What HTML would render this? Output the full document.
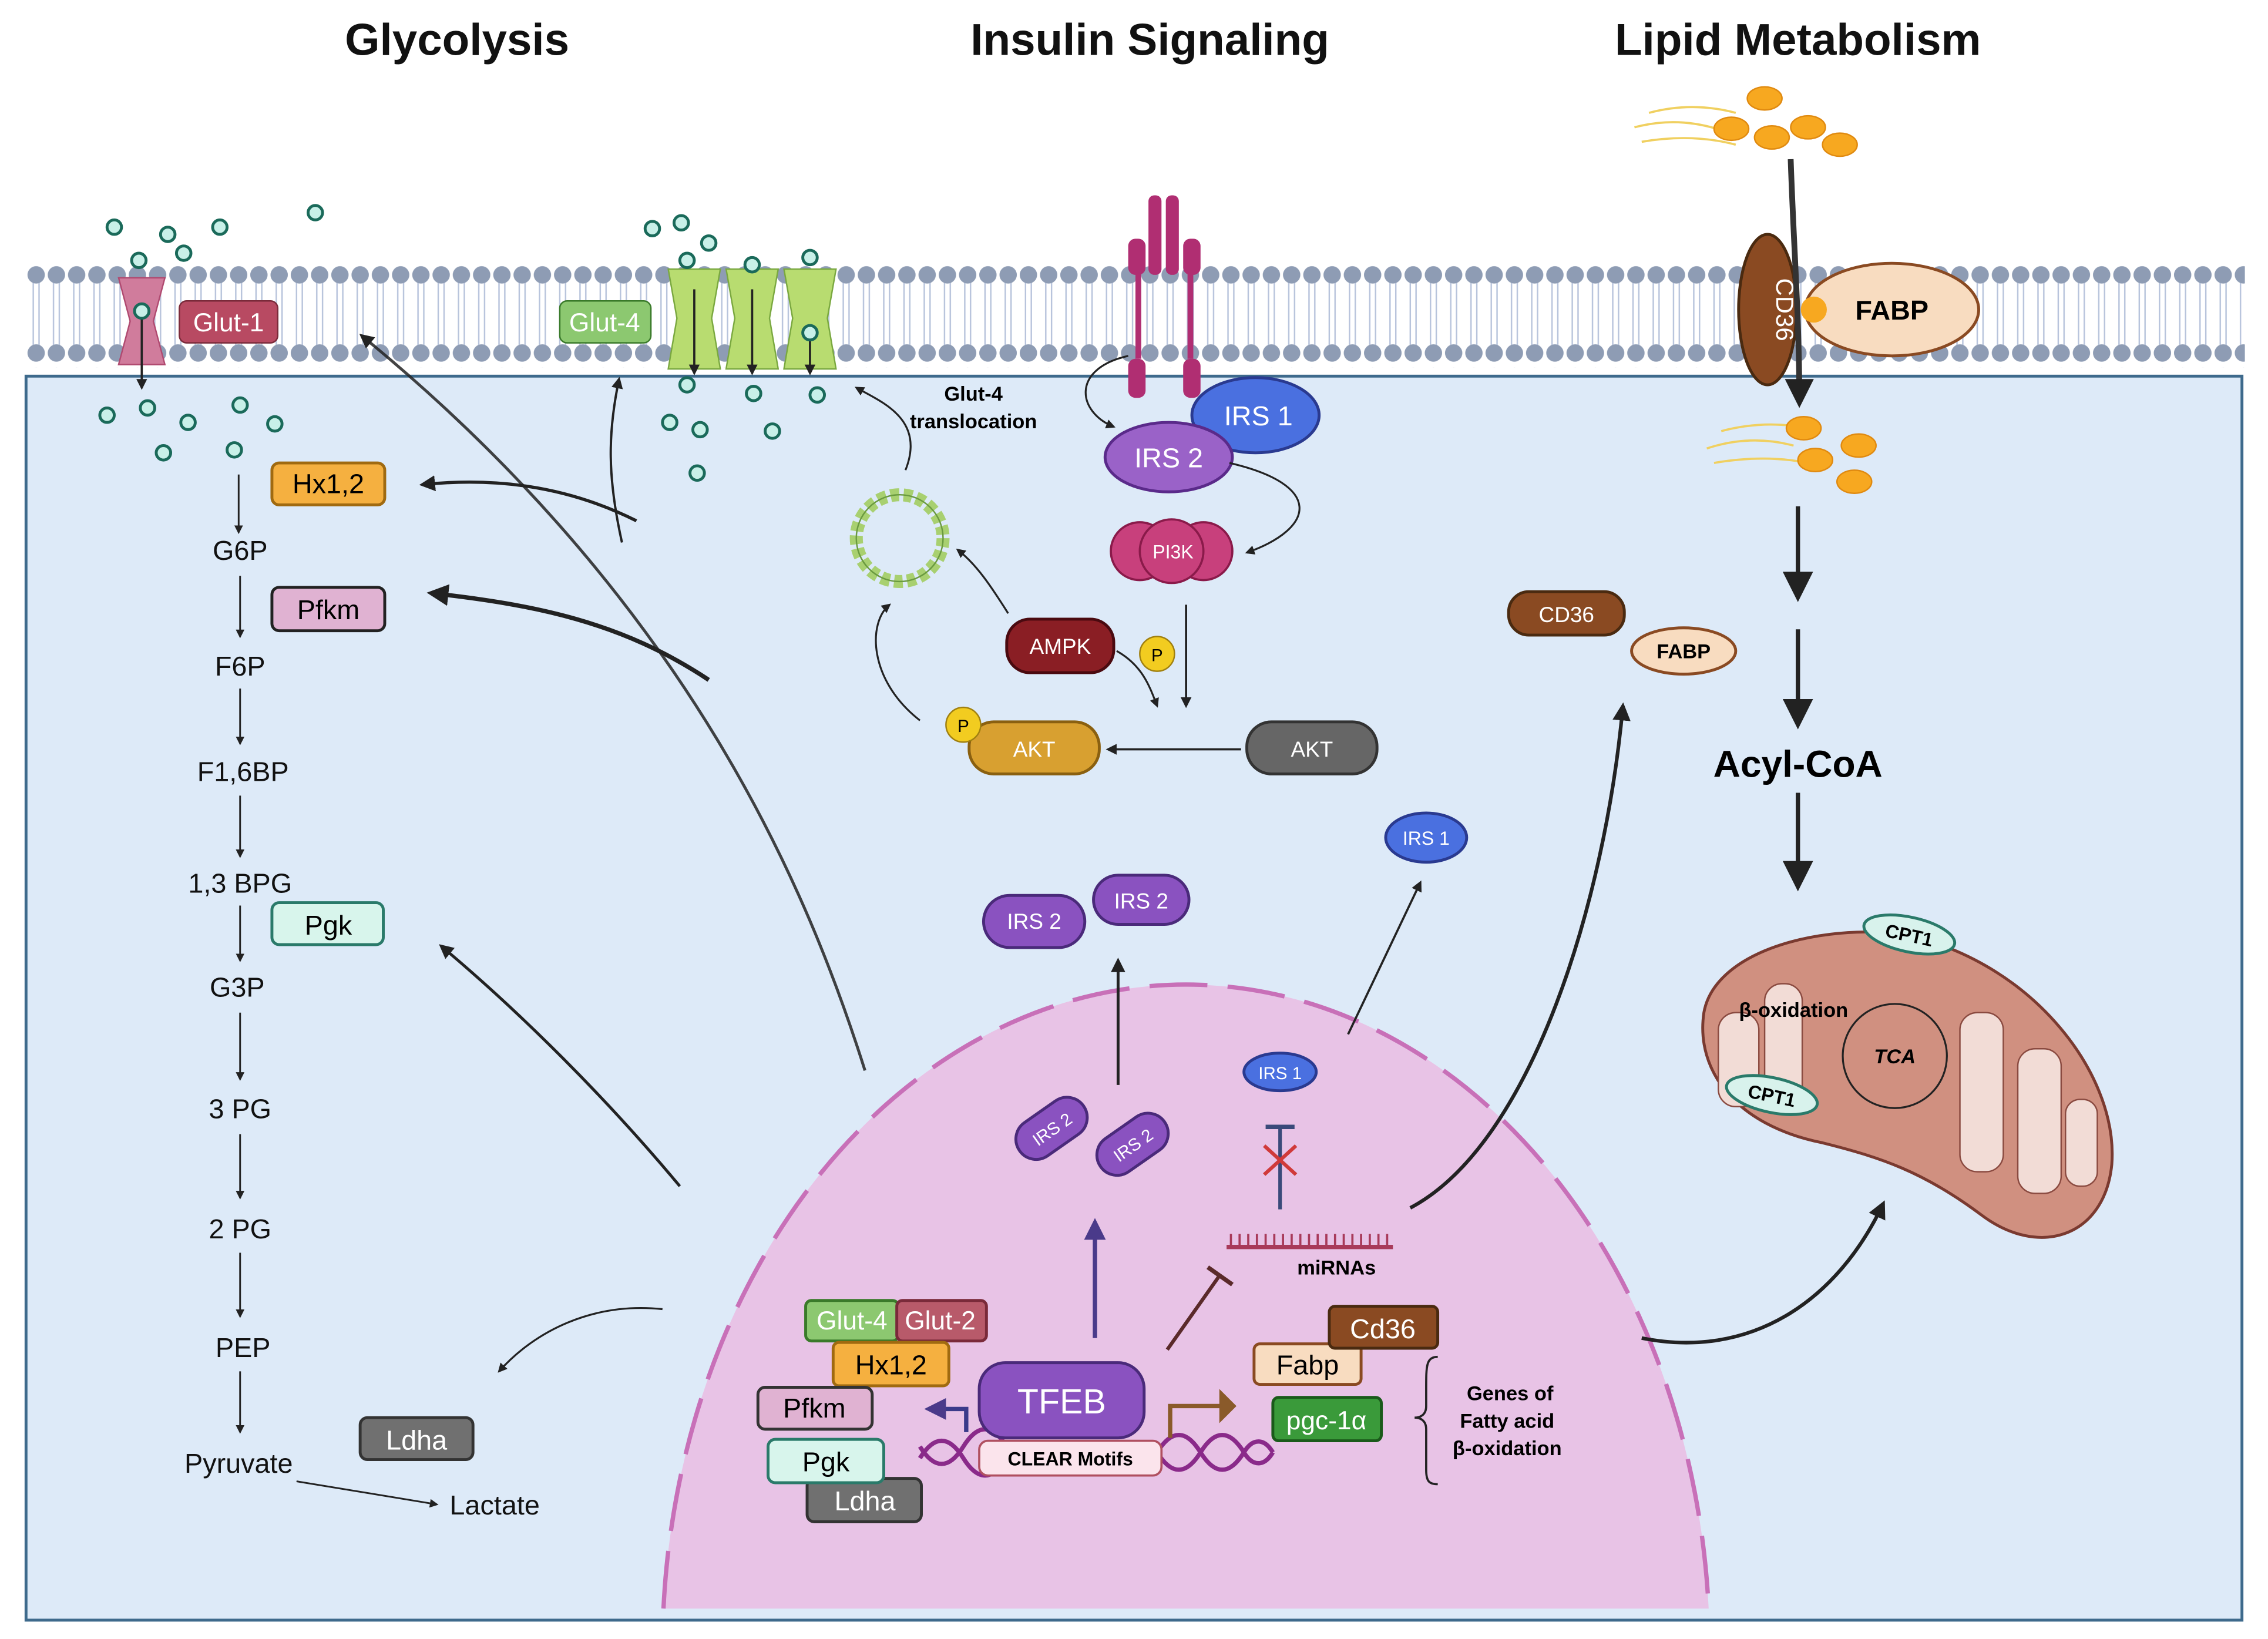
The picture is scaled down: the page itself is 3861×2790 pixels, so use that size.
<!DOCTYPE html>
<html><head><meta charset="utf-8"><style>html,body{margin:0;padding:0;background:#fff;width:3861px;height:2790px;overflow:hidden}svg{display:block}text{font-family:"Liberation Sans",sans-serif}</style></head>
<body>
<svg width="3861" height="2790" viewBox="0 0 1568 1133" xmlns="http://www.w3.org/2000/svg">
<defs>
<marker id="a" viewBox="0 0 10 10" refX="8" refY="5" markerWidth="5" markerHeight="5" orient="auto"><path d="M0,0L10,5L0,10z" fill="#222"/></marker>
<marker id="as" viewBox="0 0 10 10" refX="8" refY="5" markerWidth="7" markerHeight="7" orient="auto"><path d="M0,0L10,5L0,10z" fill="#222"/></marker>
<marker id="ap" viewBox="0 0 10 10" refX="8" refY="5" markerWidth="5" markerHeight="5" orient="auto"><path d="M0,0L10,5L0,10z" fill="#4a3a8a"/></marker>
<pattern id="beads" width="14" height="70" patternUnits="userSpaceOnUse" x="18" y="182">
<line x1="5" y1="8" x2="5" y2="62" stroke="#b8c4dc" stroke-width="1"/><line x1="9" y1="8" x2="9" y2="62" stroke="#b8c4dc" stroke-width="1"/>
<circle cx="7" cy="8" r="6" fill="#8e9cb4"/><circle cx="7" cy="62" r="6" fill="#8e9cb4"/></pattern>
</defs>
<rect width="1568" height="1133" fill="#fff"/>
<g font-weight="bold" font-size="31" text-anchor="middle" fill="#111">
<text x="316" y="38">Glycolysis</text><text x="795" y="38">Insulin Signaling</text><text x="1243" y="38">Lipid Metabolism</text></g>
<rect x="18" y="260" width="1532" height="860" fill="#ddeaf8" stroke="#3e6a8c" stroke-width="2"/>
<rect x="18" y="182" width="1534" height="72" fill="url(#beads)"/>
<path d="M458.7,1112 A362,460 0 0 1 1181.3,1112 Z" fill="#e8c3e6"/>
<path d="M458.7,1112 A362,460 0 0 1 1181.3,1112" fill="none" stroke="#c870b8" stroke-width="3" stroke-dasharray="40 14"/>
<path d="M82,192 L114,192 L106,222 L114,252 L82,252 L90,222Z" fill="#d07c9c" stroke="#b04a70"/>
<line x1="98" y1="215" x2="98" y2="268" stroke="#222" stroke-width="1.5" marker-end="url(#a)"/>
<rect x="124" y="208" width="68" height="29" rx="5" fill="#b84a62" stroke="#7a2a3a"/><text x="158" y="229" font-size="18" fill="#fff" text-anchor="middle">Glut-1</text>
<rect x="387" y="208" width="63" height="29" rx="5" fill="#8cc870" stroke="#3a7a2a"/><text x="418" y="229" font-size="18" fill="#fff" text-anchor="middle">Glut-4</text>
<g fill="#b8dc70" stroke="#7aa840">
<path d="M462,186 L498,186 L492,220 L498,255 L462,255 L468,220Z"/><path d="M502,186 L538,186 L532,220 L538,255 L502,255 L508,220Z"/><path d="M542,186 L578,186 L572,220 L578,255 L542,255 L548,220Z"/></g>
<g stroke="#222" stroke-width="1.5"><line x1="480" y1="200" x2="480" y2="258" marker-end="url(#a)"/><line x1="520" y1="200" x2="520" y2="258" marker-end="url(#a)"/><line x1="560" y1="230" x2="560" y2="258" marker-end="url(#a)"/></g>
<g fill="#c8f0e8" stroke="#1a6a5a" stroke-width="2">
<circle cx="79" cy="157" r="5"/><circle cx="116" cy="162" r="5"/><circle cx="127" cy="175" r="5"/><circle cx="152" cy="157" r="5"/><circle cx="218" cy="147" r="5"/><circle cx="96" cy="180" r="5"/><circle cx="98" cy="215" r="5"/>
<circle cx="74" cy="287" r="5"/><circle cx="102" cy="282" r="5"/><circle cx="130" cy="292" r="5"/><circle cx="166" cy="280" r="5"/><circle cx="190" cy="293" r="5"/><circle cx="113" cy="313" r="5"/><circle cx="162" cy="311" r="5"/>
<circle cx="451" cy="158" r="5"/><circle cx="471" cy="154" r="5"/><circle cx="490" cy="168" r="5"/><circle cx="475" cy="180" r="5"/><circle cx="520" cy="183" r="5"/><circle cx="560" cy="178" r="5"/><circle cx="560" cy="230" r="5"/>
<circle cx="475" cy="266" r="5"/><circle cx="521" cy="272" r="5"/><circle cx="565" cy="273" r="5"/><circle cx="463" cy="292" r="5"/><circle cx="484" cy="297" r="5"/><circle cx="534" cy="298" r="5"/><circle cx="482" cy="327" r="5"/></g>
<g fill="#b02e72"><rect x="794" y="135" width="9" height="55" rx="4"/><rect x="806" y="135" width="9" height="55" rx="4"/><rect x="780" y="165" width="12" height="25" rx="5"/><rect x="818" y="165" width="12" height="25" rx="5"/>
<rect x="785" y="188" width="4" height="60"/><rect x="821" y="188" width="4" height="60"/><rect x="780" y="248" width="12" height="27" rx="5"/><rect x="818" y="248" width="12" height="27" rx="5"/></g>
<path d="M780,246 C740,255 745,285 770,295" fill="none" stroke="#222" stroke-width="1.3" marker-end="url(#a)"/>
<ellipse cx="868" cy="287" rx="44" ry="26" fill="#4a70e0" stroke="#2a3a90" stroke-width="2"/><text x="870" y="294" font-size="19" fill="#fff" text-anchor="middle">IRS 1</text>
<ellipse cx="808" cy="316" rx="44" ry="24" fill="#9a62c8" stroke="#5a2a8a" stroke-width="2"/><text x="808" y="323" font-size="19" fill="#fff" text-anchor="middle">IRS 2</text>
<path d="M850,320 C915,335 910,365 862,382" fill="none" stroke="#222" stroke-width="1.3" marker-end="url(#a)"/>
<g fill="#c8407c" stroke="#8a1a4a" stroke-width="1.5"><circle cx="788" cy="381" r="20"/><circle cx="832" cy="381" r="20"/><circle cx="810" cy="381" r="22"/></g>
<text x="811" y="386" font-size="13" fill="#fff" text-anchor="middle">PI3K</text>
<line x1="820" y1="418" x2="820" y2="488" stroke="#222" stroke-width="1.5" marker-end="url(#a)"/>
<circle cx="622" cy="372" r="30" fill="none" stroke="#a8d070" stroke-width="9" stroke-dasharray="6 3"/><circle cx="622" cy="372" r="30" fill="none" stroke="#6a9a40" stroke-width="1"/>
<path d="M626,325 C640,290 610,278 592,268" fill="none" stroke="#222" stroke-width="1.3" marker-end="url(#a)"/>
<text x="673" y="277" font-size="14" font-weight="bold" text-anchor="middle">Glut-4</text><text x="673" y="296" font-size="14" font-weight="bold" text-anchor="middle">translocation</text>
<path d="M697,424 C685,405 675,390 662,380" fill="none" stroke="#222" stroke-width="1.3" marker-end="url(#a)"/>
<path d="M636,498 C600,470 600,430 615,418" fill="none" stroke="#222" stroke-width="1.3" marker-end="url(#a)"/>
<rect x="696" y="428" width="74" height="37" rx="16" fill="#8a1e24" stroke="#4a0a10" stroke-width="2"/><text x="733" y="452" font-size="15" fill="#fff" text-anchor="middle">AMPK</text>
<path d="M772,450 C790,460 795,475 800,488" fill="none" stroke="#222" stroke-width="1.3" marker-end="url(#a)"/>
<circle cx="800" cy="452" r="12" fill="#f2cc20" stroke="#a08010"/><text x="800" y="457" font-size="12" text-anchor="middle">P</text>
<rect x="670" y="499" width="90" height="36" rx="17" fill="#d8a030" stroke="#8a6010" stroke-width="2"/><text x="715" y="523" font-size="15" fill="#fff" text-anchor="middle">AKT</text>
<circle cx="666" cy="501" r="12" fill="#f2cc20" stroke="#a08010"/><text x="666" y="506" font-size="12" text-anchor="middle">P</text>
<rect x="862" y="499" width="90" height="36" rx="17" fill="#666" stroke="#333" stroke-width="2"/><text x="907" y="523" font-size="15" fill="#fff" text-anchor="middle">AKT</text>
<line x1="858" y1="518" x2="766" y2="518" stroke="#222" stroke-width="1.5" marker-end="url(#a)"/>
<g stroke="#f0d060" stroke-width="1.5" fill="none"><path d="M1130,88 Q1160,80 1190,90"/><path d="M1135,98 Q1170,92 1200,100"/><path d="M1140,78 Q1170,70 1200,78"/><path d="M1180,310 Q1210,300 1240,308"/><path d="M1185,320 Q1220,314 1250,320"/><path d="M1190,298 Q1220,290 1250,296"/></g>
<g fill="#f7a820" stroke="#e08a10"><ellipse cx="1220" cy="68" rx="12" ry="8"/><ellipse cx="1197" cy="89" rx="12" ry="8"/><ellipse cx="1225" cy="95" rx="12" ry="8"/><ellipse cx="1250" cy="88" rx="12" ry="8"/><ellipse cx="1272" cy="100" rx="12" ry="8"/>
<ellipse cx="1247" cy="296" rx="12" ry="8"/><ellipse cx="1285" cy="308" rx="12" ry="8"/><ellipse cx="1255" cy="318" rx="12" ry="8"/><ellipse cx="1282" cy="333" rx="12" ry="8"/></g>
<ellipse cx="1222" cy="214" rx="20" ry="52" fill="#8a4a22" stroke="#4a2a10" stroke-width="2"/>
<text x="0" y="0" font-size="17" fill="#fff" text-anchor="middle" transform="translate(1228,214) rotate(90)">CD36</text>
<ellipse cx="1308" cy="214" rx="60" ry="32" fill="#f8dcc0" stroke="#8a4a22" stroke-width="2"/><text x="1308" y="221" font-size="19" font-weight="bold" text-anchor="middle">FABP</text>
<circle cx="1254" cy="214" r="9" fill="#f7a820"/>
<path d="M1238,110 C1240,170 1244,220 1244,278" fill="none" stroke="#333" stroke-width="4" marker-end="url(#a)"/>
<g stroke="#222" stroke-width="3"><line x1="1243" y1="350" x2="1243" y2="412" marker-end="url(#as)"/><line x1="1243" y1="435" x2="1243" y2="500" marker-end="url(#as)"/><line x1="1243" y1="548" x2="1243" y2="612" marker-end="url(#as)"/></g>
<text x="1243" y="537" font-size="26" font-weight="bold" text-anchor="middle">Acyl-CoA</text>
<rect x="1043" y="409" width="80" height="30" rx="14" fill="#8a4a22" stroke="#4a2a10" stroke-width="2"/><text x="1083" y="430" font-size="15" fill="#fff" text-anchor="middle">CD36</text>
<ellipse cx="1164" cy="450" rx="36" ry="16" fill="#f8dcc0" stroke="#8a4a22" stroke-width="2"/><text x="1164" y="455" font-size="14" font-weight="bold" text-anchor="middle">FABP</text>
<path d="M1178,700 C1185,660 1250,640 1310,645 C1400,660 1465,740 1460,805 C1455,855 1410,870 1370,840 C1330,810 1300,800 1260,790 C1200,778 1172,740 1178,700Z" fill="#d09080" stroke="#7a3a30" stroke-width="2"/>
<g fill="#f2dcd6" stroke="#8a4a40" stroke-width="1"><rect x="1188" y="700" width="28" height="65" rx="12"/><rect x="1220" y="680" width="26" height="90" rx="12"/><rect x="1355" y="700" width="30" height="110" rx="12"/><rect x="1395" y="725" width="30" height="100" rx="12"/><rect x="1428" y="760" width="22" height="60" rx="10"/></g>
<circle cx="1310" cy="730" r="36" fill="none" stroke="#222" stroke-width="1.3"/>
<text x="1240" y="703" font-size="14" font-weight="bold" text-anchor="middle">β-oxidation</text>
<text x="1310" y="735" font-size="14" font-weight="bold" font-style="italic" text-anchor="middle">TCA</text>
<ellipse cx="1320" cy="646" rx="32" ry="12" fill="#d8f2ec" stroke="#2a7a6a" stroke-width="2" transform="rotate(12 1320 646)"/><text x="1320" y="651" font-size="13" font-weight="bold" text-anchor="middle" transform="rotate(12 1320 646)">CPT1</text>
<ellipse cx="1225" cy="757" rx="32" ry="12" fill="#d8f2ec" stroke="#2a7a6a" stroke-width="2" transform="rotate(12 1225 757)"/><text x="1225" y="762" font-size="13" font-weight="bold" text-anchor="middle" transform="rotate(12 1225 757)">CPT1</text>
<ellipse cx="986" cy="579" rx="28" ry="17" fill="#4a70e0" stroke="#2a3a90" stroke-width="2"/><text x="986" y="584" font-size="13" fill="#fff" text-anchor="middle">IRS 1</text>
<rect x="680" y="619" width="70" height="36" rx="18" fill="#8a52c0" stroke="#4a2a7a" stroke-width="2"/><text x="715" y="642" font-size="15" fill="#fff" text-anchor="middle">IRS 2</text>
<rect x="756" y="605" width="66" height="34" rx="17" fill="#8a52c0" stroke="#4a2a7a" stroke-width="2"/><text x="789" y="628" font-size="15" fill="#fff" text-anchor="middle">IRS 2</text>
<line x1="773" y1="750" x2="773" y2="664" stroke="#222" stroke-width="2" marker-end="url(#a)"/>
<line x1="932" y1="715" x2="982" y2="610" stroke="#222" stroke-width="1.5" marker-end="url(#a)"/>
<g font-size="19" text-anchor="middle" fill="#111">
<text x="166" y="387">G6P</text><text x="166" y="467">F6P</text><text x="168" y="540">F1,6BP</text><text x="166" y="617">1,3 BPG</text><text x="164" y="689">G3P</text><text x="166" y="773">3 PG</text><text x="166" y="856">2 PG</text><text x="168" y="938">PEP</text><text x="165" y="1018">Pyruvate</text><text x="342" y="1047">Lactate</text></g>
<g stroke="#222" stroke-width="1.2">
<line x1="165" y1="328" x2="165" y2="368" marker-end="url(#a)"/><line x1="166" y1="398" x2="166" y2="440" marker-end="url(#a)"/><line x1="166" y1="476" x2="166" y2="514" marker-end="url(#a)"/><line x1="166" y1="550" x2="166" y2="592" marker-end="url(#a)"/><line x1="166" y1="626" x2="166" y2="664" marker-end="url(#a)"/><line x1="166" y1="700" x2="166" y2="746" marker-end="url(#a)"/><line x1="166" y1="784" x2="166" y2="828" marker-end="url(#a)"/><line x1="166" y1="866" x2="166" y2="910" marker-end="url(#a)"/><line x1="166" y1="948" x2="166" y2="990" marker-end="url(#a)"/><line x1="205" y1="1024" x2="302" y2="1040" marker-end="url(#a)"/></g>
<rect x="188" y="320" width="78" height="29" rx="5" fill="#f5b040" stroke="#a06a10" stroke-width="2"/><text x="227" y="341" font-size="19" text-anchor="middle">Hx1,2</text>
<rect x="188" y="406" width="78" height="30" rx="5" fill="#e0b2d2" stroke="#222" stroke-width="2"/><text x="227" y="428" font-size="19" text-anchor="middle">Pfkm</text>
<rect x="188" y="624" width="77" height="29" rx="5" fill="#d8f5ec" stroke="#2a7a6a" stroke-width="2"/><text x="227" y="646" font-size="19" text-anchor="middle">Pgk</text>
<rect x="249" y="980" width="78" height="29" rx="5" fill="#707070" stroke="#333" stroke-width="2"/><text x="288" y="1002" font-size="19" fill="#fff" text-anchor="middle">Ldha</text>
<g fill="none" stroke="#222">
<path d="M598,740 C560,620 480,420 250,232" stroke-width="2" stroke-opacity="0.85" marker-end="url(#a)"/>
<path d="M430,375 C420,330 420,300 428,262" stroke-width="1.6" marker-end="url(#a)"/>
<path d="M440,360 C390,335 340,330 292,335" stroke-width="2.2" marker-end="url(#a)"/>
<path d="M490,470 C430,430 370,418 298,410" stroke-width="3" marker-end="url(#a)"/>
<path d="M470,820 C420,760 360,700 305,654" stroke-width="2" marker-end="url(#a)"/>
<path d="M458,905 C410,900 370,920 345,948" stroke-width="1.3" marker-end="url(#a)"/>
<path d="M975,835 C1060,790 1110,620 1122,488" stroke-width="2.5" marker-end="url(#a)"/>
<path d="M1135,925 C1210,940 1270,900 1302,832" stroke-width="2.5" marker-end="url(#a)"/></g>
<ellipse cx="885" cy="741" rx="25" ry="13" fill="#4a70e0" stroke="#2a3a90" stroke-width="2"/><text x="885" y="746" font-size="12" fill="#fff" text-anchor="middle">IRS 1</text>
<g transform="rotate(-35 727 780)"><rect x="700" y="766" width="54" height="28" rx="14" fill="#8a52c0" stroke="#4a2a7a" stroke-width="2"/><text x="727" y="785" font-size="12" fill="#fff" text-anchor="middle">IRS 2</text></g>
<g transform="rotate(-35 783 791)"><rect x="756" y="777" width="54" height="28" rx="14" fill="#8a52c0" stroke="#4a2a7a" stroke-width="2"/><text x="783" y="796" font-size="12" fill="#fff" text-anchor="middle">IRS 2</text></g>
<line x1="885" y1="836" x2="885" y2="779" stroke="#3a4a7a" stroke-width="2.5"/><line x1="875" y1="779" x2="895" y2="779" stroke="#3a4a7a" stroke-width="3"/>
<path d="M874,792 L896,812 M896,792 L874,812" stroke="#d03a3a" stroke-width="2.5"/>
<line x1="848" y1="862" x2="963" y2="862" stroke="#a83a5a" stroke-width="3"/>
<path d="M851,862 V853 M857,862 V853 M863,862 V853 M869,862 V853 M875,862 V853 M881,862 V853 M887,862 V853 M893,862 V853 M899,862 V853 M905,862 V853 M911,862 V853 M917,862 V853 M923,862 V853 M929,862 V853 M935,862 V853 M941,862 V853 M947,862 V853 M953,862 V853 M959,862 V853" stroke="#a83a5a" stroke-width="1.5"/>
<text x="924" y="881" font-size="14" font-weight="bold" text-anchor="middle">miRNAs</text>
<line x1="757" y1="925" x2="757" y2="845" stroke="#4a3a8a" stroke-width="3" marker-end="url(#ap)"/>
<line x1="807" y1="933" x2="843" y2="882" stroke="#5a2a2a" stroke-width="2.5"/><line x1="835" y1="876" x2="852" y2="888" stroke="#5a2a2a" stroke-width="3"/>
<path d="M636,1008 C646,992 656,992 666,1008 C676,1024 686,1024 696,1008 M636,1000 C646,1016 656,1016 666,1000 C676,984 686,984 696,1000 M800,1004 C810,988 820,988 830,1004 C840,1020 850,1020 860,1004 C866,994 874,994 880,1004 M800,1004 C810,1020 820,1020 830,1004 C840,988 850,988 860,1004 C866,1014 874,1014 880,1004" fill="none" stroke="#8a2a8a" stroke-width="3"/>
<rect x="677" y="996" width="126" height="24" rx="6" fill="#fbe4ec" stroke="#b05060" stroke-width="1.5"/><text x="740" y="1013" font-size="13" font-weight="bold" text-anchor="middle">CLEAR Motifs</text>
<rect x="677" y="942" width="114" height="52" rx="18" fill="#8a52c0" stroke="#4a2a7a" stroke-width="2"/><text x="734" y="977" font-size="24" fill="#fff" text-anchor="middle">TFEB</text>
<path d="M668,990 V974 H642" fill="none" stroke="#3a3a8a" stroke-width="3" marker-end="url(#ap)"/>
<path d="M809,994 V972 H848" fill="none" stroke="#8a5a2a" stroke-width="3"/><path d="M845,965 L852,972 L845,979Z" fill="#8a5a2a" stroke="#8a5a2a" stroke-width="4"/>
<rect x="557" y="899" width="64" height="28" rx="4" fill="#8cc870" stroke="#3a7a2a" stroke-width="2"/><text x="589" y="919" font-size="18" fill="#fff" text-anchor="middle">Glut-4</text>
<rect x="620" y="899" width="62" height="28" rx="4" fill="#b85a6a" stroke="#7a2a3a" stroke-width="2"/><text x="650" y="919" font-size="18" fill="#fff" text-anchor="middle">Glut-2</text>
<rect x="576" y="928" width="80" height="30" rx="4" fill="#f5b040" stroke="#a06a10" stroke-width="2"/><text x="616" y="950" font-size="19" text-anchor="middle">Hx1,2</text>
<rect x="524" y="959" width="79" height="29" rx="5" fill="#e0b2d2" stroke="#333" stroke-width="2"/><text x="563" y="980" font-size="19" text-anchor="middle">Pfkm</text>
<rect x="558" y="1022" width="79" height="30" rx="5" fill="#707070" stroke="#333" stroke-width="2"/><text x="598" y="1044" font-size="19" fill="#fff" text-anchor="middle">Ldha</text>
<rect x="531" y="995" width="80" height="30" rx="5" fill="#d8f5ec" stroke="#2a7a6a" stroke-width="2"/><text x="571" y="1017" font-size="19" text-anchor="middle">Pgk</text>
<rect x="867" y="929" width="74" height="28" rx="4" fill="#f8dcc0" stroke="#8a4a22" stroke-width="2"/><text x="904" y="950" font-size="19" text-anchor="middle">Fabp</text>
<rect x="919" y="903" width="75" height="29" rx="4" fill="#8a4a22" stroke="#4a2a10" stroke-width="2"/><text x="956" y="925" font-size="19" fill="#fff" text-anchor="middle">Cd36</text>
<rect x="880" y="966" width="75" height="30" rx="4" fill="#3a9a3a" stroke="#1a5a1a" stroke-width="2"/><text x="917" y="988" font-size="18" fill="#fff" text-anchor="middle">pgc-1α</text>
<path d="M994,938 C986,938 986,944 986,960 V972 C986,978 982,980 978,980 C982,980 986,982 986,988 V1016 C986,1024 988,1026 994,1026" fill="none" stroke="#222" stroke-width="1.5"/>
<g font-size="14" font-weight="bold" text-anchor="middle"><text x="1044" y="968">Genes of</text><text x="1042" y="987">Fatty acid</text><text x="1042" y="1006">β-oxidation</text></g>
</svg>
</body></html>
